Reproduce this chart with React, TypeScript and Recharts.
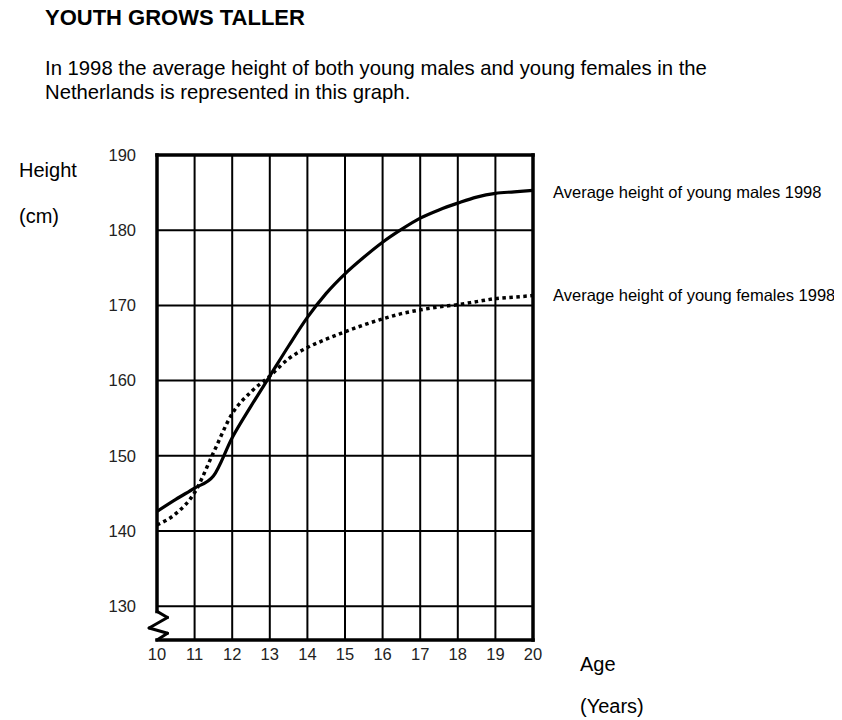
import { LineChart, Line, XAxis, YAxis, ReferenceLine } from 'recharts';

// ages in years, heights in cm
const AGES = [10, 10.5, 11, 11.5, 12, 12.5, 13, 13.5, 14, 14.5, 15, 15.5, 16, 16.5, 17, 17.5, 18, 18.5, 19, 19.5, 20];
const MALES = [142.6, 144.2, 145.7, 147.3, 152.4, 156.6, 160.6, 164.6, 168.4, 171.6, 174.2, 176.4, 178.4, 180.1, 181.6, 182.7, 183.6, 184.4, 184.9, 185.1, 185.3];
const FEMALES = [140.8, 142.3, 145.1, 150.4, 155.6, 158.5, 160.6, 162.9, 164.4, 165.5, 166.5, 167.4, 168.2, 168.9, 169.4, 169.8, 170.1, 170.5, 170.9, 171.1, 171.3];

const X_TICKS = [10, 11, 12, 13, 14, 15, 16, 17, 18, 19, 20];
const Y_TICKS = [130, 140, 150, 160, 170, 180, 190];
const Y_MIN = 125.5;

// broken-axis zigzag at the bottom of the height axis (data coords)
const BREAK_MARK = [
  { x: 10, y: 129.3 },
  { x: 10.28, y: 128.5 },
  { x: 9.79, y: 127.1 },
  { x: 10.28, y: 126.4 },
  { x: 10, y: Y_MIN },
];

const MALE_LABEL = 'Average height of young males 1998';
const FEMALE_LABEL = 'Average height of young females 1998';

const data = AGES.map((age, i) => ({ age, male: MALES[i], female: FEMALES[i] }));

const FONT = '"Liberation Sans", Arial, sans-serif';

function Txt({ x, cy, size, bold, children }: { x: number; cy: number; size: number; bold?: boolean; children: any }) {
  return (
    <div
      style={{
        position: 'absolute',
        left: x - 8,
        top: cy - 8 - size * 0.6,
        fontSize: size,
        lineHeight: 1.22,
        fontWeight: bold ? 700 : 400,
        whiteSpace: 'nowrap',
        color: '#000',
      }}
    >
      {children}
    </div>
  );
}

const endLabel = (text: string, dy: number) => (props: any) => {
  if (props.index !== AGES.length - 1) return null;
  return (
    <text x={props.x + 20} y={props.y + dy} dominantBaseline="central" fontSize={16.5} fill="#000" fontFamily={FONT}>
      {text}
    </text>
  );
};

export default function App() {
  const tick = { fontSize: 16.5, fill: '#222', fontFamily: FONT };
  return (
    <div style={{ position: 'relative', width: 834, height: 712, fontFamily: FONT }}>
      <Txt x={45} cy={18} size={22} bold>YOUTH GROWS TALLER</Txt>
      <Txt x={45} cy={68} size={20.3}>In 1998 the average height of both young males and young females in the</Txt>
      <Txt x={45} cy={92} size={20.3}>Netherlands is represented in this graph.</Txt>
      <Txt x={19} cy={170} size={20}>Height</Txt>
      <Txt x={19} cy={216} size={20}>(cm)</Txt>
      <Txt x={580} cy={664} size={20}>Age</Txt>
      <Txt x={580} cy={706} size={20}>(Years)</Txt>

      <div style={{ position: 'absolute', left: 0, top: 0 }}>
        <LineChart width={834} height={700} data={data} margin={{ top: 147, right: 309, left: 89, bottom: 38 }}>
          <XAxis
            dataKey="age"
            type="number"
            domain={[10, 20]}
            ticks={X_TICKS}
            axisLine={false}
            tickLine={false}
            tickSize={6}
            tickMargin={2}
            height={30}
            tick={tick}
            interval={0}
          />
          <YAxis
            type="number"
            domain={[Y_MIN, 190]}
            ticks={Y_TICKS}
            allowDataOverflow
            axisLine={false}
            tickLine={false}
            tickSize={19}
            tickMargin={2}
            width={60}
            tick={tick}
            interval={0}
          />

          {Y_TICKS.slice(0, -1).map((v) => (
            <ReferenceLine key={'h' + v} y={v} stroke="#000" strokeWidth={2} />
          ))}
          {X_TICKS.slice(1, -1).map((v) => (
            <ReferenceLine key={'v' + v} x={v} stroke="#000" strokeWidth={2} />
          ))}

          <ReferenceLine y={190} stroke="#000" strokeWidth={3.5} strokeLinecap="square" />
          <ReferenceLine x={20} stroke="#000" strokeWidth={3.5} strokeLinecap="square" />
          <ReferenceLine y={Y_MIN} stroke="#000" strokeWidth={3.5} strokeLinecap="square" />
          <ReferenceLine
            segment={[{ x: 10, y: 190 }, { x: 10, y: BREAK_MARK[0].y }]}
            stroke="#000"
            strokeWidth={3.5}
            strokeLinecap="square"
          />
          {BREAK_MARK.slice(1).map((p, i) => (
            <ReferenceLine
              key={'z' + i}
              segment={[BREAK_MARK[i], p]}
              stroke="#000"
              strokeWidth={3}
              strokeLinecap="round"
              ifOverflow="visible"
            />
          ))}

          <Line
            dataKey="male"
            type="monotone"
            stroke="#000"
            strokeWidth={3.2}
            dot={false}
            isAnimationActive={false}
            label={endLabel(MALE_LABEL, 1.5)}
          />
          <Line
            dataKey="female"
            type="monotone"
            stroke="#000"
            strokeWidth={3.5}
            strokeDasharray="3.5 3.5"
            dot={false}
            isAnimationActive={false}
            label={endLabel(FEMALE_LABEL, -0.5)}
          />
        </LineChart>
      </div>
    </div>
  );
}
